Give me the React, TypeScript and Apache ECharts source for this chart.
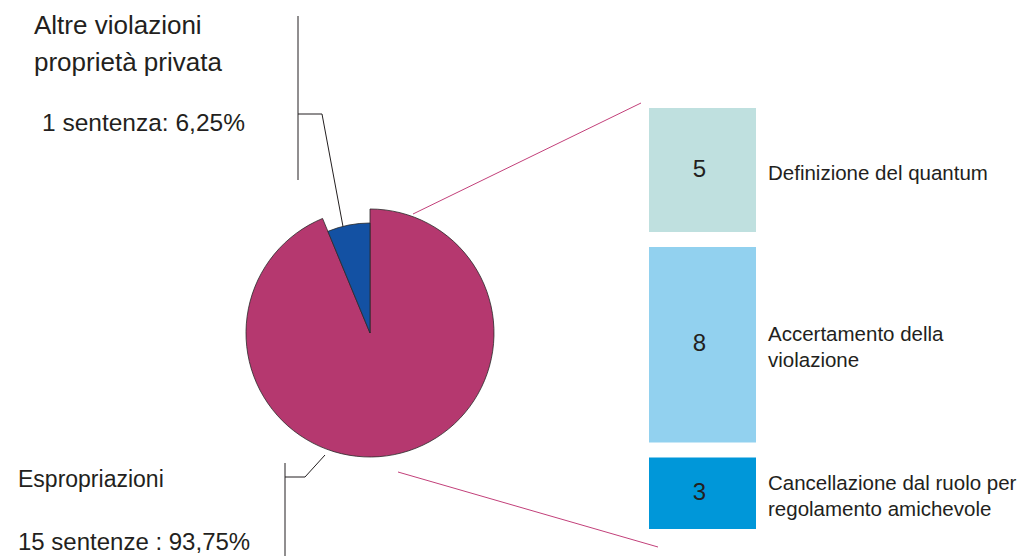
import React, { useEffect, useRef } from "react";
import * as echarts from "echarts";

const pieNames = ["Espropriazioni", "Altre violazioni\nproprietà privata"];
const pieValues = [15, 1];
const pieColors = ["#B5386F", "#1351A3"];

const subNames = [
  "Definizione del quantum",
  "Accertamento della\nviolazione",
  "Cancellazione dal ruolo per\nregolamento amichevole",
];
const subValues = [5, 8, 3];
const subColors = ["#BFE0DF", "#92D1EF", "#0097D9"];

const FONT = "'Liberation Sans', Arial, Helvetica, sans-serif";
const INK = "#231F20";

function pct(v: number, total: number) {
  return ((v / total) * 100).toFixed(2).replace(".", ",");
}

export default function App() {
  const ref = useRef<HTMLDivElement>(null);

  useEffect(() => {
    if (!ref.current) return;
    const chart = echarts.init(ref.current, null, { renderer: "svg" });
    const pieTotal = pieValues.reduce((a, b) => a + b, 0);
    const subTotal = subValues.reduce((a, b) => a + b, 0);

    let acc = 0;
    const subData = subValues.map((v, i) => {
      const start = acc;
      acc += v;
      return [0, start, acc, v, i];
    });

    const GAP = 15;

    const pieSeries = (radius: number, visibleIndex: number) => ({
      type: "pie",
      center: [370, 333],
      radius: radius,
      startAngle: 90,
      clockwise: true,
      silent: true,
      label: { show: false },
      labelLine: { show: false },
      emphasis: { disabled: true },
      data: pieValues.map((v, i) => ({
        name: pieNames[i],
        value: v,
        itemStyle:
          i === visibleIndex
            ? { color: pieColors[i], borderColor: "#2a2a2a", borderWidth: 0.8 }
            : { color: "rgba(0,0,0,0)", borderWidth: 0 },
      })),
    });

    const countText = (i: number) =>
      i === 0
        ? `${pieValues[i]} sentenze : ${pct(pieValues[i], pieTotal)}%`
        : `${pieValues[i]} sentenza: ${pct(pieValues[i], pieTotal)}%`;

    chart.setOption({
      animation: false,
      grid: { left: 649, top: 108, width: 107, height: 421 },
      xAxis: { type: "category", data: ["sub"], show: false },
      yAxis: { type: "value", min: 0, max: subTotal, inverse: true, show: false },
      series: [
        pieSeries(124, 0),
        pieSeries(110, 1),
        {
          type: "custom",
          silent: true,
          data: subData,
          encode: { x: 0, y: [1, 2] },
          renderItem: (params: any, api: any) => {
            const s = api.value(1);
            const e = api.value(2);
            const idx = api.value(4);
            const p0 = api.coord([0, s]);
            const p1 = api.coord([0, e]);
            const bw = api.size([1, 0])[0];
            const x = p0[0] - bw / 2;
            const top = p0[1] + (s > 0 ? GAP / 2 : 0);
            const bottom = p1[1] - (e < subTotal ? GAP / 2 : 0);
            const cy = (top + bottom) / 2;
            return {
              type: "group",
              children: [
                {
                  type: "rect",
                  shape: { x, y: top, width: bw, height: bottom - top },
                  style: { fill: subColors[idx] },
                },
                {
                  type: "text",
                  x: x + bw / 2 - 3,
                  y: cy - 2,
                  style: {
                    text: String(api.value(3)),
                    fill: INK,
                    font: `24px ${FONT}`,
                    align: "center",
                    verticalAlign: "middle",
                    textAlign: "center",
                    textVerticalAlign: "middle",
                  },
                },
                {
                  type: "text",
                  x: x + bw + 12,
                  y: cy + 2,
                  style: {
                    text: subNames[idx],
                    fill: INK,
                    font: `20.5px ${FONT}`,
                    lineHeight: 26,
                    align: "left",
                    verticalAlign: "middle",
                    textAlign: "left",
                    textVerticalAlign: "middle",
                  },
                },
              ],
            };
          },
        },
      ],
      graphic: [
        // labels
        {
          type: "text",
          x: 34,
          y: 43.5,
          style: {
            text: pieNames[1],
            fill: INK,
            font: `26px ${FONT}`,
            lineHeight: 37,
            verticalAlign: "middle",
            textVerticalAlign: "middle",
          },
          silent: true,
        },
        {
          type: "text",
          x: 42,
          y: 122,
          style: {
            text: countText(1),
            fill: INK,
            font: `24.5px ${FONT}`,
            verticalAlign: "middle",
            textVerticalAlign: "middle",
          },
          silent: true,
        },
        {
          type: "text",
          x: 18,
          y: 479,
          style: {
            text: pieNames[0],
            fill: INK,
            font: `23px ${FONT}`,
            verticalAlign: "middle",
            textVerticalAlign: "middle",
          },
          silent: true,
        },
        {
          type: "text",
          x: 18,
          y: 541,
          style: {
            text: countText(0),
            fill: INK,
            font: `24px ${FONT}`,
            verticalAlign: "middle",
            textVerticalAlign: "middle",
          },
          silent: true,
        },
        // leader lines
        { type: "line", shape: { x1: 298, y1: 16, x2: 298, y2: 180 }, style: { stroke: INK, lineWidth: 1 }, silent: true },
        { type: "polyline", shape: { points: [[298, 114], [322, 114], [347, 248]] }, style: { stroke: INK, lineWidth: 1, fill: "none" }, silent: true },
        { type: "line", shape: { x1: 285, y1: 463, x2: 285, y2: 556 }, style: { stroke: INK, lineWidth: 1 }, silent: true },
        { type: "polyline", shape: { points: [[285, 477], [305, 477], [325, 455]] }, style: { stroke: INK, lineWidth: 1, fill: "none" }, silent: true },
        // connectors to breakdown
        { type: "line", shape: { x1: 413, y1: 214, x2: 641, y2: 103 }, style: { stroke: "#C2407A", lineWidth: 1 }, silent: true },
        { type: "line", shape: { x1: 398, y1: 472, x2: 658, y2: 547 }, style: { stroke: "#C2407A", lineWidth: 1 }, silent: true },
      ],
    });

    return () => chart.dispose();
  }, []);

  return (
    <div
      ref={ref}
      style={{ position: "fixed", left: 0, top: 0, width: 1022, height: 556, background: "#ffffff" }}
    />
  );
}
